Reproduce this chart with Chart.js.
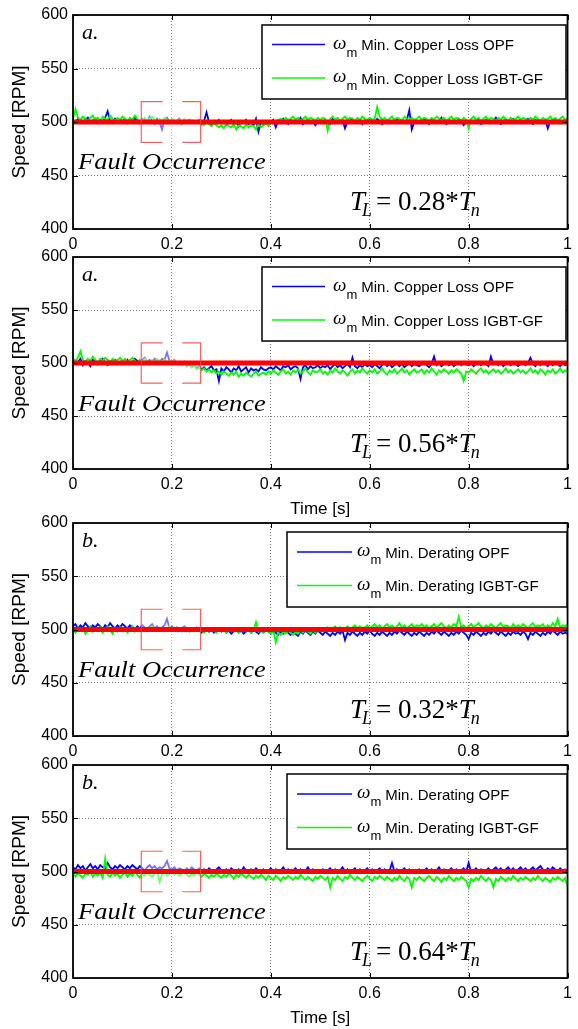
<!DOCTYPE html>
<html>
<head>
<meta charset="utf-8">
<script src="https://cdn.jsdelivr.net/npm/chart.js@4.4.1/dist/chart.umd.min.js"></script>
<style>
  html, body { margin: 0; padding: 0; background: #fff; }
  body { width: 578px; height: 1029px; position: relative; overflow: hidden; }
  canvas { position: absolute; left: 0; }
</style>
</head>
<body>
<script>
// tick labels and sample grid
const xTickLabels = ['0', '0.2', '0.4', '0.6', '0.8', '1'];
const sampleStep = 0.005;

// speed reference (red)
const refTime = [0, 1];
const refSpeed = [500, 500];

// zoom brackets around the fault instant
const bracketLeftX = [0.181, 0.138, 0.138, 0.181];
const bracketLeftY = [519, 519, 481, 481];
const bracketRightX = [0.221, 0.258, 0.258, 0.221];
const bracketRightY = [519, 519, 481, 481];

const copperNames = ['Min. Copper Loss OPF', 'Min. Copper Loss IGBT-GF'];
const deratingNames = ['Min. Derating OPF', 'Min. Derating IGBT-GF'];

// panel 1 : copper loss, TL = 0.28 Tn
const p1Blue = [
  502, 500, 503, 501, 499, 502, 504, 500, 501, 503, 499, 502, 500, 504, 510, 501, 499, 503, 500, 502,
  501, 503, 499, 502, 500, 504, 501, 499, 503, 502, 500, 505, 501, 498, 503, 500, 493, 502, 504, 500,
  502, 499, 501, 503, 498, 501, 500, 502, 499, 501, 500, 502, 498, 501, 509, 500, 497, 501, 499, 502,
  499, 501, 497, 500, 502, 498, 500, 496, 501, 499, 502, 498, 500, 497, 503, 491, 500, 498, 501, 499,
  500, 502, 495, 501, 499, 503, 500, 498, 502, 500, 499, 501, 504, 498, 500, 502, 499, 501, 497, 500,
  501, 499, 502, 500, 498, 503, 501, 499, 500, 502, 494, 500, 501, 503, 499, 500, 502, 498, 501, 500,
  502, 500, 499, 503, 501, 498, 500, 502, 499, 501, 500, 503, 499, 501, 500, 502, 511, 493, 500, 501,
  499, 501, 503, 500, 498, 502, 500, 499, 501, 504, 500, 498, 502, 500, 501, 499, 503, 500, 497, 501,
  500, 502, 499, 501, 503, 498, 500, 502, 500, 499, 501, 504, 500, 498, 501, 502, 499, 500, 503, 501,
  500, 502, 499, 501, 503, 500, 498, 502, 501, 499, 500, 502, 494, 501, 500, 503, 499, 501, 500, 502,
  500
];
const p1Green = [
  503, 512, 504, 502, 505, 503, 501, 504, 506, 502, 504, 500, 505, 503, 502, 506, 503, 501, 504, 502,
  505, 503, 501, 504, 502, 506, 503, 500, 502, 504, 501, 503, 505, 502, 500, 503, 501, 504, 502, 500,
  503, 501, 499, 502, 500, 503, 501, 499, 502, 498, 500, 501, 499, 497, 500, 498, 496, 499, 497, 495,
  497, 494, 498, 496, 495, 498, 493, 497, 496, 494, 498, 495, 497, 496, 493, 498, 495, 497, 499, 496,
  499, 501, 500, 502, 503, 501, 504, 502, 503, 505, 502, 504, 501, 503, 505, 502, 504, 503, 501, 504,
  502, 504, 503, 492, 503, 505, 502, 504, 501, 503, 505, 502, 504, 503, 501, 504, 502, 505, 503, 502,
  504, 502, 503, 514, 505, 502, 504, 501, 503, 505, 502, 504, 503, 501, 505, 503, 502, 504, 502, 503,
  505, 502, 504, 503, 501, 504, 502, 505, 503, 502, 504, 501, 503, 505, 502, 504, 503, 501, 504, 502,
  494, 503, 505, 502, 504, 501, 503, 505, 502, 504, 503, 501, 504, 502, 505, 503, 501, 504, 502, 503,
  505, 502, 504, 503, 501, 504, 502, 505, 503, 501, 504, 502, 503, 505, 502, 504, 501, 503, 505, 502,
  503
];

// panel 2 : copper loss, TL = 0.56 Tn
const p2Blue = [
  503, 499, 501, 504, 498, 502, 500, 497, 503, 501, 499, 502, 504, 500, 498, 502, 501, 503, 499, 501,
  502, 500, 503, 499, 501, 504, 502, 500, 503, 505, 501, 503, 500, 504, 502, 501, 504, 503, 510, 502,
  501, 503, 499, 500, 498, 501, 497, 499, 496, 498, 495, 497, 494, 496, 493, 495, 497, 493, 494, 483,
  495, 492, 496, 494, 491, 495, 493, 497, 492, 494, 496, 491, 495, 493, 494, 492, 496, 494, 493, 495,
  496, 494, 497, 495, 493, 497, 496, 498, 494, 496, 497, 495, 485, 496, 498, 494, 497, 495, 496, 498,
  495, 497, 496, 498, 494, 497, 499, 496, 498, 495, 497, 499, 496, 505, 497, 495, 498, 496, 499, 497,
  498, 496, 499, 497, 495, 498, 500, 497, 499, 496, 498, 500, 497, 499, 496, 498, 500, 497, 499, 498,
  497, 499, 501, 498, 496, 499, 506, 498, 500, 497, 499, 501, 498, 500, 497, 499, 501, 498, 500, 499,
  498, 500, 497, 499, 501, 498, 500, 499, 497, 506, 499, 501, 498, 500, 497, 499, 501, 498, 500, 499,
  497, 499, 501, 498, 500, 505, 499, 497, 500, 498, 501, 499, 497, 500, 498, 501, 499, 497, 500, 498,
  499
];
const p2Green = [
  504, 502, 505, 511, 503, 501, 504, 502, 506, 503, 500, 504, 502, 505, 503, 501, 504, 502, 503, 505,
  502, 504, 501, 503, 505, 502, 500, 503, 501, 504, 502, 499, 503, 501, 504, 502, 500, 503, 501, 502,
  500, 502, 499, 501, 498, 500, 497, 499, 496, 498, 494, 496, 493, 495, 492, 494, 491, 493, 490, 492,
  489, 492, 490, 488, 491, 489, 492, 487, 490, 488, 491, 489, 487, 490, 492, 488, 490, 491, 489, 492,
  490, 493, 491, 489, 492, 494, 490, 492, 489, 493, 491, 494, 490, 492, 495, 491, 489, 493, 491, 492,
  494, 490, 492, 489, 493, 491, 495, 492, 490, 493, 491, 488, 492, 494, 490, 493, 491, 495, 492, 490,
  493, 491, 494, 490, 492, 495, 491, 489, 493, 491, 494, 490, 492, 495, 491, 493, 489, 492, 494, 491,
  492, 494, 490, 493, 491, 495, 492, 489, 493, 491, 494, 492, 490, 493, 491, 494, 492, 490, 483, 492,
  491, 494, 492, 490, 493, 495, 491, 493, 490, 492, 494, 491, 493, 490, 492, 495, 491, 493, 490, 492,
  494, 491, 493, 490, 492, 495, 491, 493, 490, 494, 492, 489, 493, 491, 494, 490, 492, 495, 491, 493,
  492
];

// panel 3 : derating, TL = 0.32 Tn
const p3Blue = [
  503, 505, 501, 504, 502, 506, 503, 501, 504, 502, 505, 503, 500, 504, 502, 506, 503, 501, 504, 502,
  505, 503, 501, 504, 502, 500, 503, 501, 504, 502, 500, 503, 505, 501, 503, 500, 502, 504, 510, 501,
  503, 500, 502, 499, 501, 503, 500, 498, 501, 499, 502, 500, 497, 499, 501, 498, 500, 497, 499, 501,
  498, 500, 497, 499, 496, 498, 500, 497, 499, 496, 498, 500, 497, 499, 498, 496, 499, 497, 500, 498,
  496, 499, 497, 495, 498, 496, 499, 497, 495, 498, 496, 494, 498, 496, 499, 497, 495, 498, 496, 499,
  497, 495, 498, 496, 494, 497, 495, 498, 496, 499, 490, 497, 495, 498, 496, 494, 497, 495, 498, 496,
  499, 496, 494, 497, 495, 498, 496, 494, 497, 495, 498, 496, 499, 497, 495, 498, 496, 494, 497, 495,
  498, 496, 494, 497, 495, 498, 496, 499, 497, 495, 498, 496, 494, 497, 495, 498, 496, 499, 497, 495,
  491, 497, 495, 498, 496, 494, 497, 495, 498, 496, 499, 497, 495, 498, 496, 494, 497, 495, 498, 496,
  497, 495, 498, 496, 491, 497, 495, 498, 496, 494, 497, 495, 498, 496, 499, 497, 495, 498, 496, 497,
  496
];
const p3Green = [
  500, 497, 502, 499, 501, 496, 500, 503, 498, 501, 499, 502, 497, 500, 503, 499, 496, 501, 498, 502,
  499, 501, 497, 500, 503, 498, 501, 499, 502, 500, 498, 501, 503, 499, 501, 502, 500, 498, 501, 503,
  500, 502, 499, 501, 498, 500, 502, 499, 501, 498, 500, 502, 499, 497, 500, 498, 501, 499, 497, 500,
  498, 500, 497, 499, 501, 498, 500, 497, 499, 501, 498, 500, 497, 499, 507, 498, 500, 497, 499, 498,
  496, 499, 488, 497, 495, 498, 496, 499, 497, 495, 498, 496, 499, 497, 500, 498, 496, 499, 497, 500,
  499, 501, 500, 502, 499, 501, 503, 500, 502, 499, 501, 503, 500, 502, 504, 501, 503, 500, 502, 504,
  501, 503, 505, 502, 504, 501, 503, 505, 502, 504, 501, 503, 506, 502, 504, 501, 503, 505, 502, 504,
  503, 505, 502, 504, 501, 503, 505, 502, 504, 506, 503, 501, 504, 502, 505, 503, 512, 502, 504, 501,
  503, 505, 502, 504, 506, 503, 501, 504, 502, 505, 503, 501, 504, 506, 502, 504, 503, 501, 505, 502,
  504, 502, 505, 503, 501, 504, 506, 502, 504, 503, 505, 501, 504, 502, 506, 503, 510, 502, 504, 503,
  505
];

// panel 4 : derating, TL = 0.64 Tn
const p4Blue = [
  504, 502, 506, 503, 505, 501, 504, 507, 503, 505, 502, 506, 504, 503, 508, 504, 502, 505, 503, 506,
  504, 502, 505, 503, 506, 504, 502, 505, 503, 501, 504, 506, 503, 505, 502, 504, 503, 505, 510, 503,
  502, 504, 501, 503, 502, 500, 503, 501, 504, 502, 500, 503, 501, 502, 500, 503, 501, 499, 502, 504,
  501, 499, 502, 500, 503, 501, 499, 502, 500, 504, 501, 499, 502, 500, 503, 501, 499, 502, 500, 501,
  503, 500, 502, 499, 501, 504, 500, 502, 499, 501, 503, 500, 502, 499, 501, 504, 500, 502, 499, 501,
  500, 502, 499, 501, 503, 500, 502, 499, 501, 504, 500, 502, 499, 501, 503, 500, 502, 499, 501, 503,
  500, 502, 499, 501, 503, 500, 502, 499, 501, 508, 500, 502, 499, 501, 503, 500, 502, 499, 501, 500,
  502, 499, 501, 503, 500, 502, 499, 501, 504, 500, 502, 499, 501, 503, 500, 502, 499, 501, 503, 500,
  508, 499, 501, 503, 500, 502, 499, 501, 503, 500, 502, 504, 501, 503, 500, 502, 504, 501, 503, 500,
  502, 504, 501, 503, 500, 502, 504, 501, 503, 505, 502, 500, 503, 501, 504, 502, 500, 503, 501, 502,
  501
];
const p4Green = [
  498, 495, 499, 496, 494, 498, 497, 500, 495, 498, 496, 499, 494, 512, 497, 495, 499, 496, 498, 494,
  497, 499, 495, 498, 496, 500, 497, 494, 498, 496, 499, 497, 495, 498, 500, 490, 497, 499, 496, 498,
  500, 497, 499, 496, 498, 500, 497, 495, 498, 496, 499, 497, 495, 498, 496, 494, 497, 495, 498, 496,
  494, 497, 495, 498, 496, 493, 497, 495, 498, 496, 494, 497, 495, 493, 496, 494, 497, 495, 492, 496,
  494, 492, 496, 494, 491, 495, 493, 496, 494, 492, 495, 493, 497, 494, 492, 495, 493, 491, 495, 493,
  496, 494, 492, 495, 485, 494, 492, 496, 493, 491, 495, 493, 497, 494, 492, 495, 493, 491, 494, 496,
  493, 491, 495, 493, 496, 494, 492, 495, 493, 491, 494, 492, 496, 493, 491, 495, 493, 485, 494, 492,
  495, 493, 491, 494, 496, 493, 491, 495, 493, 490, 494, 492, 496, 493, 491, 494, 492, 495, 493, 491,
  485, 493, 491, 494, 492, 496, 493, 491, 494, 492, 485, 493, 491, 495, 493, 491, 494, 492, 496, 493,
  491, 494, 492, 495, 493, 491, 494, 492, 496, 493, 491, 494, 492, 490, 494, 492, 495, 493, 491, 494,
  486
];

// layout of each panel (page pixels)
const legendCopper = { left: 262, right: 566, top: 10, bottom: 84, line0: 272, line1: 325, text: 333, row1: 29.5, row2: 63 };
const legendDerating = { left: 287, right: 567, top: 9, bottom: 84, line0: 297, line1: 352, text: 357, row1: 29, row2: 62.5 };

const panels = [
  { top: 15, bottom: 229, letter: 'a.', load: '0.28', blue: p1Blue, green: p1Green, names: copperNames, timeTitle: false, legend: legendCopper },
  { top: 257, bottom: 469, letter: 'a.', load: '0.56', blue: p2Blue, green: p2Green, names: copperNames, timeTitle: true, legend: legendCopper },
  { top: 523, bottom: 736, letter: 'b.', load: '0.32', blue: p3Blue, green: p3Green, names: deratingNames, timeTitle: false, legend: legendDerating },
  { top: 765, bottom: 978, letter: 'b.', load: '0.64', blue: p4Blue, green: p4Green, names: deratingNames, timeTitle: true, legend: legendDerating }
];

const SANS = '"Liberation Sans", Arial, sans-serif';
const SERIF = '"Liberation Serif", "Times New Roman", serif';
Chart.defaults.font.family = SANS;
Chart.defaults.color = '#000';

function toPoints(xs, ys) {
  return xs.map((x, i) => ({ x: x, y: ys[i] }));
}
function series(vals) {
  return vals.map((v, i) => ({ x: i * sampleStep, y: v }));
}

function drawLoad(ctx, x, y, load) {
  ctx.font = 'italic 27px ' + SERIF;
  ctx.fillText('T', x, y);
  x += ctx.measureText('T').width;
  ctx.font = 'italic 18px ' + SERIF;
  ctx.fillText('L', x - 3, y + 6);
  x += ctx.measureText('L').width + 1;
  ctx.font = '27px ' + SERIF;
  const s = '= ' + load + '*';
  ctx.fillText(s, x, y);
  x += ctx.measureText(s).width;
  ctx.font = 'italic 27px ' + SERIF;
  ctx.fillText('T', x, y);
  x += ctx.measureText('T').width;
  ctx.font = 'italic 18px ' + SERIF;
  ctx.fillText('n', x - 3, y + 6);
}

const overlayPlugin = {
  id: 'overlay',
  afterDatasetDraw(chart, args) {
    // fade the zoomed window once the speed traces are in
    if (args.index !== chart.options.plugins.overlay.fadeAfter) return;
    const { ctx, scales: { x, y } } = chart;
    const x0 = x.getPixelForValue(Math.min(...bracketLeftX));
    const x1 = x.getPixelForValue(Math.max(...bracketRightX));
    const y0 = y.getPixelForValue(Math.max(...bracketLeftY));
    const y1 = y.getPixelForValue(Math.min(...bracketLeftY));
    ctx.save();
    ctx.fillStyle = 'rgba(255,255,255,0.45)';
    ctx.fillRect(x0, y0, x1 - x0, y1 - y0);
    ctx.restore();
  },
  afterDatasetsDraw(chart) {
    const { ctx, chartArea: a, scales: { x, y } } = chart;
    ctx.save();
    ctx.strokeStyle = '#000';
    ctx.lineWidth = 1;
    ctx.beginPath();
    x.ticks.forEach(t => {
      const px = Math.round(x.getPixelForValue(t.value)) + 0.5;
      ctx.moveTo(px, a.bottom); ctx.lineTo(px, a.bottom - 5);
      ctx.moveTo(px, a.top); ctx.lineTo(px, a.top + 5);
    });
    y.ticks.forEach(t => {
      const py = Math.round(y.getPixelForValue(t.value)) + 0.5;
      ctx.moveTo(a.left, py); ctx.lineTo(a.left + 5, py);
      ctx.moveTo(a.right, py); ctx.lineTo(a.right - 5, py);
    });
    ctx.stroke();
    ctx.lineWidth = 1.8;
    ctx.strokeRect(a.left, a.top, a.right - a.left, a.bottom - a.top);
    ctx.restore();
  },
  afterDraw(chart) {
    const o = chart.options.plugins.overlay;
    const { ctx, chartArea: a } = chart;
    const top = a.top;
    ctx.save();
    ctx.fillStyle = '#000';
    ctx.textBaseline = 'alphabetic';

    // legend
    const lg = o.legend;
    ctx.fillStyle = '#fff';
    ctx.fillRect(lg.left, top + lg.top, lg.right - lg.left, lg.bottom - lg.top);
    ctx.strokeStyle = '#000';
    ctx.lineWidth = 1.5;
    ctx.strokeRect(lg.left, top + lg.top, lg.right - lg.left, lg.bottom - lg.top);
    const rows = chart.data.datasets.filter(d => d.legendRow !== undefined)
      .sort((p, q) => p.legendRow - q.legendRow);
    rows.forEach((d, i) => {
      const ry = top + (i === 0 ? lg.row1 : lg.row2);
      ctx.strokeStyle = d.borderColor;
      ctx.lineWidth = 1.5;
      ctx.beginPath();
      ctx.moveTo(lg.line0, ry); ctx.lineTo(lg.line1, ry);
      ctx.stroke();
      ctx.fillStyle = '#000';
      let tx = lg.text;
      ctx.font = 'italic 19px ' + SERIF;
      ctx.fillText('\u03c9', tx, ry + 4);
      tx += ctx.measureText('\u03c9').width;
      ctx.font = '13px ' + SANS;
      ctx.fillText('m', tx, ry + 12);
      tx += ctx.measureText('m').width + 4;
      ctx.font = '15px ' + SANS;
      ctx.fillText(d.label, tx, ry + 5.5);
    });

    // annotations
    ctx.fillStyle = '#000';
    ctx.font = 'italic 22px ' + SERIF;
    ctx.fillText(o.letter, 82, top + 24);

    ctx.save();
    ctx.translate(78, top + 154);
    ctx.scale(1.15, 1);
    ctx.font = 'italic 23px ' + SERIF;
    ctx.fillText('Fault Occurrence', 0, 0);
    ctx.restore();

    drawLoad(ctx, 350, top + 195, o.load);
    ctx.restore();
  }
};

panels.forEach(p => {
  const xAxisH = p.timeTitle ? 52 : 26;
  const canvasTop = p.top - 15;
  const cv = document.createElement('canvas');
  cv.width = 578;
  cv.height = p.bottom - canvasTop + xAxisH;
  cv.style.top = canvasTop + 'px';
  document.body.appendChild(cv);

  new Chart(cv, {
    type: 'line',
    data: {
      datasets: [
        { label: 'ref', data: toPoints(refTime, refSpeed), borderColor: '#ff0000', borderWidth: 5, order: 1 },
        { label: 'zoomL', data: toPoints(bracketLeftX, bracketLeftY), borderColor: 'rgba(245,70,70,0.85)', borderWidth: 1.2, order: 0 },
        { label: 'zoomR', data: toPoints(bracketRightX, bracketRightY), borderColor: 'rgba(245,70,70,0.85)', borderWidth: 1.2, order: 0 },
        { label: p.names[1], data: series(p.green), borderColor: '#00ff00', borderWidth: 1.8, order: 2, legendRow: 1 },
        { label: p.names[0], data: series(p.blue), borderColor: '#0000ff', borderWidth: 1.8, order: 3, legendRow: 0 }
      ]
    },
    options: {
      responsive: false,
      animation: false,
      events: [],
      layout: { padding: { top: 15, right: 5, left: 0, bottom: 0 } },
      elements: { point: { radius: 0 }, line: { tension: 0, fill: false, borderCapStyle: 'butt' } },
      plugins: {
        legend: { display: false },
        tooltip: { enabled: false },
        overlay: { fadeAfter: 3, legend: p.legend, letter: p.letter, load: p.load }
      },
      scales: {
        x: {
          type: 'linear', min: 0, max: 1,
          afterFit: s => { s.height = xAxisH; },
          ticks: { stepSize: 0.2, padding: 6, maxRotation: 0, font: { size: 16 },
                   callback: (v, i) => xTickLabels[i] },
          grid: { color: '#7a7a7a', lineWidth: 1, drawTicks: false },
          border: { display: false, dash: [1, 2] },
          title: { display: p.timeTitle, text: 'Time [s]', font: { size: 17 }, padding: { top: 0, bottom: 1 } }
        },
        y: {
          min: 400, max: 600,
          afterFit: s => { s.width = 73; },
          ticks: { stepSize: 50, padding: 5, font: { size: 16 } },
          grid: { color: '#7a7a7a', lineWidth: 1, drawTicks: false },
          border: { display: false, dash: [1, 2] },
          title: { display: true, text: 'Speed [RPM]', font: { size: 19 }, padding: { top: 8, bottom: 0 } }
        }
      }
    },
    plugins: [overlayPlugin]
  });
});
</script>
</body>
</html>
